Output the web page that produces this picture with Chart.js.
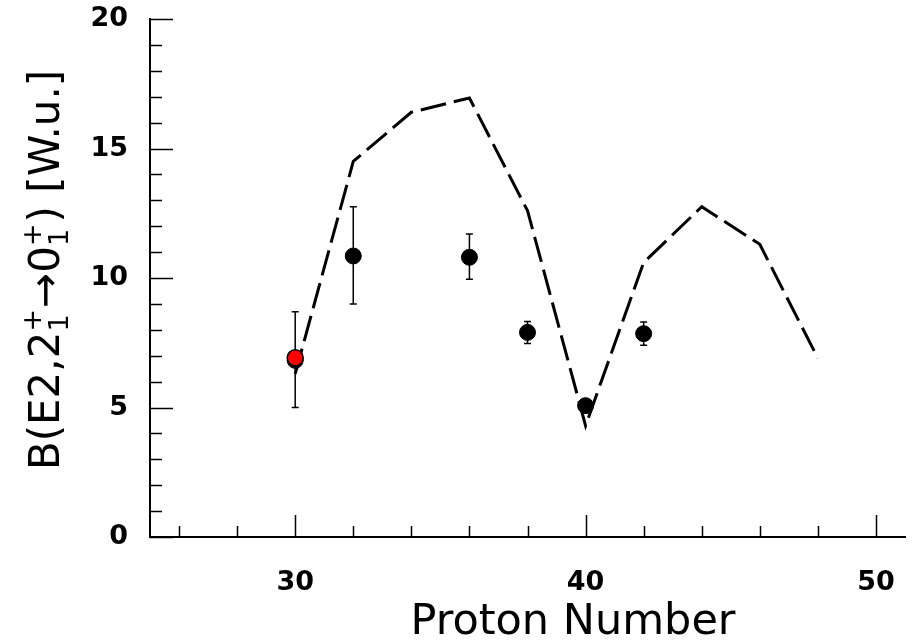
<!DOCTYPE html>
<html>
<head>
<meta charset="utf-8">
<script src="https://cdn.jsdelivr.net/npm/chart.js@4/dist/chart.umd.min.js"></script>
<style>
  html, body { margin: 0; padding: 0; background: #ffffff; }
  #wrap { width: 922px; height: 643px; }
</style>
</head>
<body>
<div id="wrap"><canvas id="c" width="922" height="643"></canvas></div>
<script>
// ---- data ----
const protonNumbers = [30, 32, 36, 38, 40, 42];
const bE2Values     = [6.82, 10.85, 10.8, 7.9, 5.07, 7.85];
const bE2ErrLow     = [5.0, 9.0, 9.95, 7.47, 4.95, 7.4];
const bE2ErrHigh    = [8.7, 12.75, 11.7, 8.32, 5.2, 8.3];
const newPointZ     = [30];
const newPointValue = [6.92];
const theoryZ       = [30, 32, 34, 36, 38, 40, 42, 44, 46, 48];
const theoryValues  = [6.3, 14.5, 16.4, 16.95, 12.6, 4.3, 10.6, 12.75, 11.3, 6.9];
const xMajorTicks   = [30, 40, 50];
const yMajorTicks   = [0, 5, 10, 15, 20];
const xTitleText    = 'Proton Number';
const yTitleParts   = ['B(E2,2', ['+', '1'], '\u21920', ['+', '1'], ') [W.u.]'];

const toXY = (xs, ys) => xs.map((x, i) => ({ x: x, y: ys[i] }));

const decorPlugin = {
  id: 'decor',
  beforeDatasetsDraw(chart) {
    const ctx = chart.ctx, xs = chart.scales.x, ys = chart.scales.y;
    ctx.save();
    ctx.strokeStyle = '#000';
    ctx.lineWidth = 1.5;
    protonNumbers.forEach((z, i) => {
      const px = xs.getPixelForValue(z);
      const y1 = ys.getPixelForValue(bE2ErrLow[i]);
      const y2 = ys.getPixelForValue(bE2ErrHigh[i]);
      ctx.beginPath();
      ctx.moveTo(px, y1); ctx.lineTo(px, y2);
      ctx.moveTo(px - 3.5, y1); ctx.lineTo(px + 3.5, y1);
      ctx.moveTo(px - 3.5, y2); ctx.lineTo(px + 3.5, y2);
      ctx.stroke();
    });
    ctx.restore();
  },
  afterDraw(chart) {
    const ctx = chart.ctx, xs = chart.scales.x, ys = chart.scales.y;
    const ca = chart.chartArea;
    ctx.save();
    ctx.strokeStyle = '#000';
    ctx.lineWidth = 1.5;
    // y ticks (inside)
    for (let v = ys.min; v <= ys.max; v += 1) {
      const py = Math.round(ys.getPixelForValue(v)) + 0.5;
      const len = (v % 5 === 0) ? 23 : 12;
      ctx.beginPath(); ctx.moveTo(ca.left, py); ctx.lineTo(ca.left + len, py); ctx.stroke();
    }
    // x ticks (inside)
    for (let v = 26; v <= xs.max; v += 2) {
      const px = Math.round(xs.getPixelForValue(v)) + 0.5;
      const len = (v % 10 === 0) ? 22 : 11;
      ctx.beginPath(); ctx.moveTo(px, ca.bottom); ctx.lineTo(px, ca.bottom - len); ctx.stroke();
    }
    // x title
    ctx.fillStyle = '#000';
    ctx.font = '43px "DejaVu Sans"';
    ctx.textAlign = 'center';
    ctx.textBaseline = 'alphabetic';
    ctx.fillText(xTitleText, 573, 634);
    // y title (rotated, with stacked super/subscripts)
    const mainFont = '42px "DejaVu Sans"';
    const scriptFont = '27px "DejaVu Sans"';
    let total = 0;
    yTitleParts.forEach(p => {
      if (typeof p === 'string') { ctx.font = mainFont; total += ctx.measureText(p).width; }
      else { ctx.font = scriptFont; total += Math.max(ctx.measureText(p[0]).width, ctx.measureText(p[1]).width) + 1; }
    });
    ctx.translate(59, 270);
    ctx.rotate(-Math.PI / 2);
    let x = -total / 2;
    ctx.textAlign = 'left';
    yTitleParts.forEach(p => {
      if (typeof p === 'string') {
        ctx.font = mainFont; ctx.fillText(p, x, 0); x += ctx.measureText(p).width;
      } else {
        ctx.font = scriptFont;
        ctx.fillText(p[0], x, -18);
        ctx.fillText(p[1], x, 9);
        x += Math.max(ctx.measureText(p[0]).width, ctx.measureText(p[1]).width) + 1;
      }
    });
    ctx.restore();
  }
};

new Chart(document.getElementById('c'), {
  type: 'scatter',
  data: {
    datasets: [
      {
        label: 'new',
        data: toXY(newPointZ, newPointValue),
        backgroundColor: '#ff0000',
        borderColor: '#000000',
        borderWidth: 1.5,
        pointRadius: 8,
        order: 0
      },
      {
        label: 'experiment',
        data: toXY(protonNumbers, bE2Values),
        backgroundColor: '#000000',
        borderColor: '#000000',
        borderWidth: 1,
        pointRadius: 8,
        order: 1
      },
      {
        label: 'theory',
        type: 'line',
        data: toXY(theoryZ, theoryValues),
        borderColor: '#000000',
        borderWidth: 3,
        borderDash: [26, 8],
        pointRadius: 0,
        fill: false,
        tension: 0,
        order: 2
      }
    ]
  },
  options: {
    responsive: false,
    animation: false,
    devicePixelRatio: 1,
    layout: { padding: { top: 19, right: 17, left: 0, bottom: 0 } },
    plugins: { legend: { display: false }, tooltip: { enabled: false } },
    scales: {
      x: {
        type: 'linear',
        min: 25, max: 51,
        afterFit(s) { s.height = 106; s.paddingLeft = 0; s.paddingRight = 0; },
        afterBuildTicks(s) { s.ticks = xMajorTicks.map(v => ({ value: v })); },
        grid: { drawOnChartArea: false, drawTicks: false },
        border: { display: true, color: '#000', width: 2 },
        ticks: { font: { family: '"DejaVu Sans"', size: 27, weight: 'bold' }, color: '#000', padding: 30, maxRotation: 0 }
      },
      y: {
        type: 'linear',
        min: 0, max: 20,
        afterFit(s) { s.width = 150; s.paddingTop = 0; s.paddingBottom = 0; },
        afterBuildTicks(s) { s.ticks = yMajorTicks.map(v => ({ value: v })); },
        grid: { drawOnChartArea: false, drawTicks: false },
        border: { display: true, color: '#000', width: 2 },
        ticks: { font: { family: '"DejaVu Sans"', size: 27, weight: 'bold' }, color: '#000', padding: 22 }
      }
    }
  },
  plugins: [decorPlugin]
});
</script>
</body>
</html>
